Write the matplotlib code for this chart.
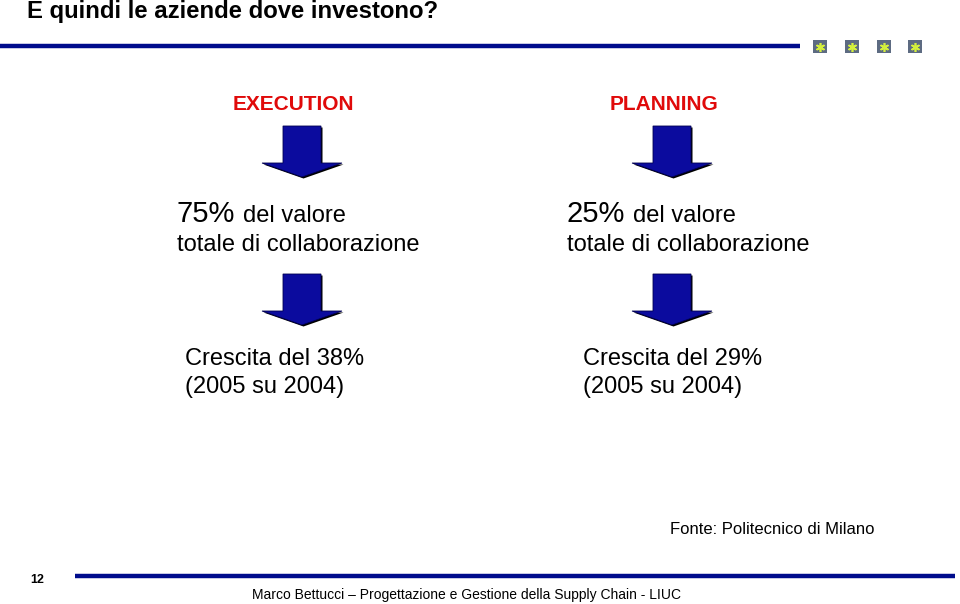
import matplotlib.pyplot as plt
from matplotlib.patches import Polygon, Rectangle

plt.rcParams['font.family'] = ['Liberation Sans', 'DejaVu Sans']

# slide content
title = "E quindi le aziende dove investono?"
columns = ['EXECUTION', 'PLANNING']
value_share = ['75%', '25%']
value_text = ['del valore', 'del valore']
value_line2 = ['totale di collaborazione', 'totale di collaborazione']
growth = ['38%', '29%']
growth_period = ['(2005 su 2004)', '(2005 su 2004)']
source = "Fonte: Politecnico di Milano"
footer = "Marco Bettucci \u2013 Progettazione e Gestione della Supply Chain - LIUC"
page_no = "12"

RED = '#e00a0a'
NAVY = '#000c8c'
ARROW = '#0b0b9e'


def down_arrow(ax, cx, top):
    # block arrow: shaft + triangular head, with a dark shadow edge
    pts = [(cx - 19, top), (cx + 19, top), (cx + 19, top + 37), (cx + 40, top + 37),
           (cx, top + 51), (cx - 40, top + 37), (cx - 19, top + 37)]
    shadow = [(x + 1.5, y + 1.5) for x, y in pts]
    ax.add_patch(Polygon(shadow, closed=True, facecolor='black', edgecolor='none'))
    ax.add_patch(Polygon(pts, closed=True, facecolor=ARROW, edgecolor='#000050', lw=0.6))


fig = plt.figure(figsize=(9.6, 6.04), dpi=100)
ax = fig.add_axes([0, 0, 1, 1])
ax.set_xlim(0, 960)
ax.set_ylim(604, 0)
ax.axis('off')

# header
ax.text(27, 18, title, fontsize=17.2, fontweight='bold', va='baseline', ha='left')
ax.plot([0, 800], [45.5, 45.5], color=NAVY, lw=3.2, solid_capstyle='butt')
for sx in [820, 852, 884, 915]:
    ax.add_patch(Rectangle((sx - 7, 40), 14, 13, facecolor='#5d6b82', edgecolor='none'))
    ax.plot(sx, 46.5, marker=(6, 2, 0), color='#d4f03c', markersize=6.5, mew=1.2)

# columns
col_head_x = [293, 664]
arrow_x = [302, 672]
value_x = [177, 567]
growth_x = [185, 583]
for i in range(2):
    ax.text(col_head_x[i], 110, columns[i], color=RED, fontsize=15, fontweight='bold',
            ha='center', va='baseline')
    down_arrow(ax, arrow_x[i], 126)
    t = ax.text(value_x[i], 222, value_share[i], fontsize=21, va='baseline', ha='left')
    fig.canvas.draw()
    bb = t.get_window_extent(renderer=fig.canvas.get_renderer())
    ax.text(bb.x1 + 8, 222, value_text[i], fontsize=17, va='baseline', ha='left')
    ax.text(value_x[i], 251, value_line2[i], fontsize=17, va='baseline', ha='left')
    down_arrow(ax, arrow_x[i], 274)
    ax.text(growth_x[i], 365, 'Crescita del ' + growth[i], fontsize=17, va='baseline', ha='left')
    ax.text(growth_x[i], 393, growth_period[i], fontsize=17, va='baseline', ha='left')

ax.text(670, 534, source, fontsize=12, va='baseline', ha='left')

# footer
ax.plot([75, 955], [575.5, 575.5], color=NAVY, lw=3.2, solid_capstyle='butt')
ax.text(37, 583, page_no, fontsize=9, fontweight='bold', ha='center', va='baseline')
ax.text(466, 599, footer, fontsize=10, ha='center', va='baseline')

fig.savefig('out.png', dpi=100)
